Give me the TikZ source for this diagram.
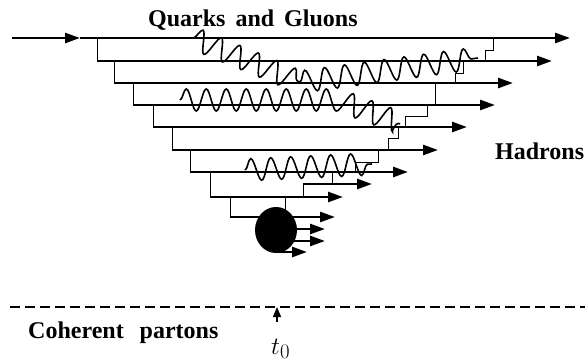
\documentclass[tikz,border=0pt]{standalone}
\usepackage{fontspec}
\setmainfont{Liberation Serif}
\usetikzlibrary{arrows.meta,shapes.geometric,decorations.pathmorphing}

\begin{document}
\begin{tikzpicture}[
        x=1pt, y=-1pt,
        quark/.style={line width=2.6pt, -{Triangle[length=15pt,width=10pt]}},
        rung/.style={line width=0.8pt},
        gluon/.style={line width=1.6pt, decorate,
                      decoration={snake, amplitude=11pt, segment length=20pt}},
        lbl/.style={font=\fontsize{24}{28}\selectfont\bfseries, inner sep=0pt},
        blob/.style={draw=none, fill=black, ellipse, inner sep=0pt,
                     minimum width=42pt, minimum height=46pt}
    ]
        \useasboundingbox (0,0) rectangle (585,363);

        \coordinate (in) at (12,38);
        \coordinate (in1) at (80,38);
        \coordinate (r0) at (570,38);
        \draw[quark] (in) -- (in1);
        \draw[quark] (in1) -- (r0);

        \foreach \i/\yp/\y/\xl/\xt in {1/38/61/97/552, 2/61/83/114/513, 3/83/105/133/495,
                4/105/127/153/467, 5/127/150/172/438, 6/150/172/190/408, 7/172/197/210/343}{
            \coordinate (k\i) at (\xl,\yp);
            \coordinate (l\i) at (\xl,\y);
            \coordinate (r\i) at (\xt,\y);
            \draw[rung] (k\i) -- (l\i);
            \draw[quark] (l\i) -- (r\i);
        }

        \node[blob] (blob) at (276,230) {};
        \coordinate (k8) at (230,197);
        \coordinate (l8) at (230,217);
        \draw[rung] (k8) -- (l8);
        \draw[line width=2.6pt] (l8) -- (l8 -| blob.center);
        \coordinate (b7) at (285,197);
        \draw[rung] (b7) -- (b7 |- blob.center);
        \draw[quark] ([yshift=13pt]blob.center) -- +(59,0);
        \draw[quark] ([yshift=1pt]blob.center) -- +(49,0);
        \draw[quark] ([yshift=-11pt]blob.center) -- +(49,0);
        \draw[quark] ([yshift=-22pt]blob.center) -- +(31,0);

        \draw[rung] (493,38) |- (485,50) -- (485,61);
        \draw[rung] (463,61) |- (455,73) -- (455,83);
        \draw[rung] (435,83) -- (435,105);
        \draw[rung] (427,105) |- (405,116) -- (405,127);
        \draw[rung] (398,127) |- (388,138) -- (388,150);
        \draw[rung] (378,150) |- (355,162) -- (355,172);
        \draw[rung] (332,172) -- (332,184);
        \coordinate (s) at (303,184);
        \draw[quark] (s) -- (372,184);
        \draw[rung] (s) -- (303,197);

        \draw[gluon] (193,38) -- (300,82);
        \draw[gluon] (300,82) -- (478,58);
        \draw[gluon] (180,100) -- (335,100) -- (400,124);
        \draw[gluon] (245,170) -- (372,164);

        \coordinate (c0) at (10,307);
        \coordinate (c1) at (585,307);
        \draw[line width=2.6pt, dash pattern=on 10pt off 5pt] (c0) -- (c1);
        \coordinate (tz) at (277,322);
        \coordinate (tt) at (277,307);
        \draw[line width=1.4pt, -{Triangle[length=10pt,width=8pt]}] (tz) -- (tt);

        \node[lbl, anchor=base west] (qg) at (148,27) {Quarks\hspace{10pt}and\hspace{10pt}Gluons};
        \node[lbl, anchor=base west] (had) at (495,160) {Hadrons};
        \node[lbl, anchor=base west] (coh) at (28,338) {Coherent\hspace{16pt}partons};
        \node[font=\fontsize{32}{34}\selectfont, anchor=base west, inner sep=0pt] (t0) at (271,354) {$t_0$};
\end{tikzpicture}
\end{document}
